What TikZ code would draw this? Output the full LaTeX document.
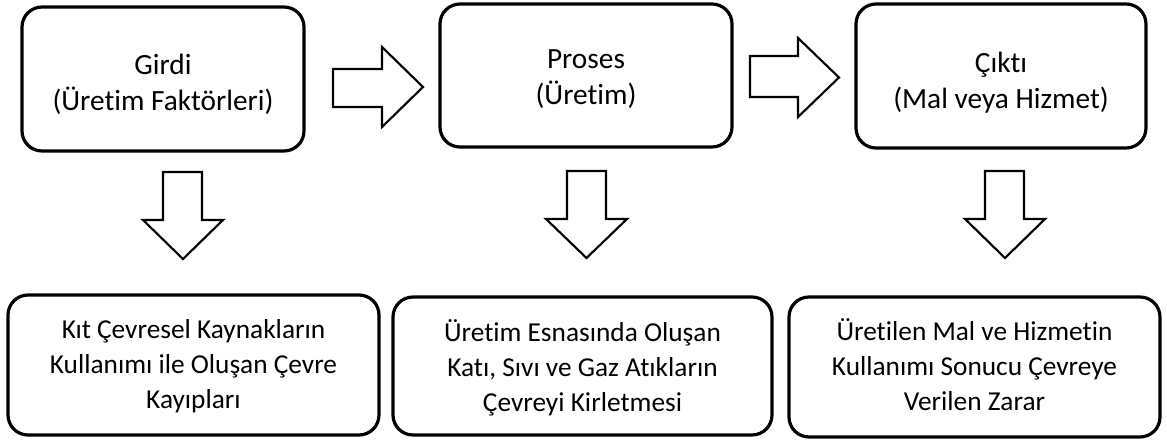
\documentclass[tikz,border=0pt]{standalone}
\usepackage{fontspec}
\setmainfont{Carlito}[Ligatures={NoCommon}]
\begin{document}
\begin{tikzpicture}[x=0.75pt,y=-0.75pt,
  box/.style={draw, line width=2.4pt, rounded corners=15pt, inner sep=0pt},
  toptext/.style={align=center, inner sep=0pt, anchor=base, font=\fontsize{22}{27}\selectfont},
  bottext/.style={align=center, inner sep=0pt, anchor=base, font=\fontsize{20.5}{26}\selectfont},
  blockarrow/.style={draw, line width=1.6pt, fill=white, line join=miter}]
\useasboundingbox (0,0) rectangle (1167,439);
% top row
\node[box, minimum width=211.5pt, minimum height=108pt] (in) at (163,79) {};
\node[box, minimum width=219pt, minimum height=107.25pt] (pr) at (586,75.5) {};
\node[box, minimum width=217.5pt, minimum height=108pt] (out) at (1001,76) {};
\node[toptext] (in-t) at (163,110) {Girdi\\(Üretim Faktörleri)};
\node[toptext] (pr-t) at (586,104) {Proses\\(Üretim)};
\node[toptext] (out-t) at (1001,108) {Çıktı\\(Mal veya Hizmet)};
% bottom row
\node[box, minimum width=278.25pt, minimum height=105pt] (b1) at (193.5,365) {};
\node[box, minimum width=284.25pt, minimum height=103.5pt] (b2) at (582.5,366) {};
\node[box, minimum width=278.25pt, minimum height=105pt] (b3) at (974.5,367) {};
\node[bottext] (b1-t) at (193.5,408) {Kıt Çevresel Kaynakların\\Kullanımı ile Oluşan Çevre\\Kayıpları};
\node[bottext] (b2-t) at (582.5,411) {Üretim Esnasında Oluşan\\Katı, Sıvı ve Gaz Atıkların\\Çevreyi Kirletmesi};
\node[bottext] (b3-t) at (974.5,410) {Üretilen Mal ve Hizmetin\\Kullanımı Sonucu Çevreye\\Verilen Zarar};
% right block arrows
\draw[blockarrow] (333,69) -- (382,69) -- (382,47) -- (423,87) -- (382,127) -- (382,107) -- (333,107) -- cycle;
\draw[blockarrow] (750,56) -- (798,56) -- (798,38) -- (839,77.5) -- (798,117) -- (798,97) -- (750,97) -- cycle;
% down block arrows
\draw[blockarrow] (163,172) -- (202,172) -- (202,220) -- (223,220) -- (183,259) -- (143,220) -- (163,220) -- cycle;
\draw[blockarrow] (567,171) -- (606,171) -- (606,219) -- (627,219) -- (586.5,258) -- (546,219) -- (567,219) -- cycle;
\draw[blockarrow] (985,171) -- (1024,171) -- (1024,219) -- (1045,219) -- (1005,258) -- (965,219) -- (985,219) -- cycle;
\end{tikzpicture}
\end{document}
